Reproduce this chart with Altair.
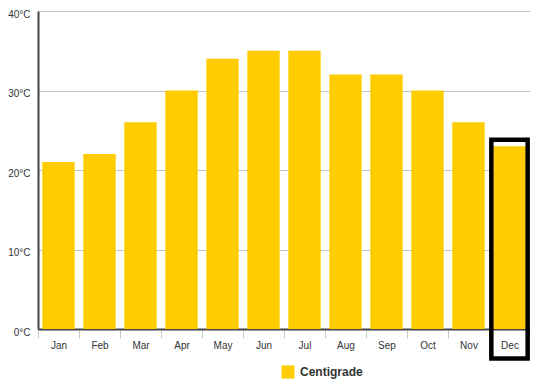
import altair as alt
import pandas as pd

months = ["Jan", "Feb", "Mar", "Apr", "May", "Jun", "Jul", "Aug", "Sep", "Oct", "Nov", "Dec"]
centigrade = [21, 22, 26, 30, 34, 35, 35, 32, 32, 30, 26, 23]
series_name = "Centigrade"
y_ticks = [0, 10, 20, 30, 40]

highlight_month = ["Dec"]
highlight_top = [23.8]
highlight_bottom = [-3.7]

df = pd.DataFrame({"month": months, "value": centigrade, "series": [series_name] * len(months)})
hl = pd.DataFrame({"month": highlight_month, "top": highlight_top, "bottom": highlight_bottom})

FONT = "Liberation Sans"

xscale = alt.Scale(domain=months, paddingInner=0, paddingOuter=0)
yscale = alt.Scale(domain=[0, 40], nice=False, zero=True)

bars = alt.Chart(df).mark_bar(width=alt.RelativeBandSize(0.79)).encode(
    x=alt.X("month:N", sort=months, scale=xscale, title=None,
            axis=alt.Axis(tickBand="extent", labelAngle=0, tickSize=9, tickColor="#c8c8c8",
                          tickWidth=1, labelPadding=2, labelFontSize=10, labelColor="#333333",
                          labelFont=FONT, domainColor="#444444", domainWidth=2, grid=False)),
    y=alt.Y("value:Q", scale=yscale, title=None,
            axis=alt.Axis(values=y_ticks, labelExpr="datum.value + '°C'", ticks=False,
                          labelPadding=8, labelOffset=3, labelFontSize=10, labelColor="#333333",
                          labelFont=FONT, domainColor="#444444", domainWidth=2, grid=True,
                          gridColor="#c4c4c4", gridWidth=1)),
    color=alt.Color("series:N", scale=alt.Scale(range=["#ffcc00"]), title=None,
                    legend=alt.Legend(orient="none", legendX=243, legendY=354, symbolType="square",
                                      symbolSize=170, symbolStrokeWidth=0, symbolOpacity=1,
                                      labelFont=FONT, labelFontSize=12, labelFontWeight="bold",
                                      labelColor="#333333", padding=0, labelOffset=5)),
)

box = alt.Chart(hl).mark_bar(width=alt.RelativeBandSize(0.886), fill=None, fillOpacity=0,
                             stroke="black", strokeWidth=4.5, clip=False).encode(
    x=alt.X("month:N", sort=months, scale=xscale),
    y=alt.Y("top:Q", scale=yscale),
    y2="bottom:Q",
)

chart = alt.layer(bars, box).properties(
    width=492, height=318,
    autosize=alt.AutoSizeParams(type="none"),
    padding={"left": 30, "top": 3, "right": 0, "bottom": 51},
).configure_view(stroke=None).configure(font=FONT)

chart.save("out.html", embed_options={"renderer": "svg", "actions": False})
